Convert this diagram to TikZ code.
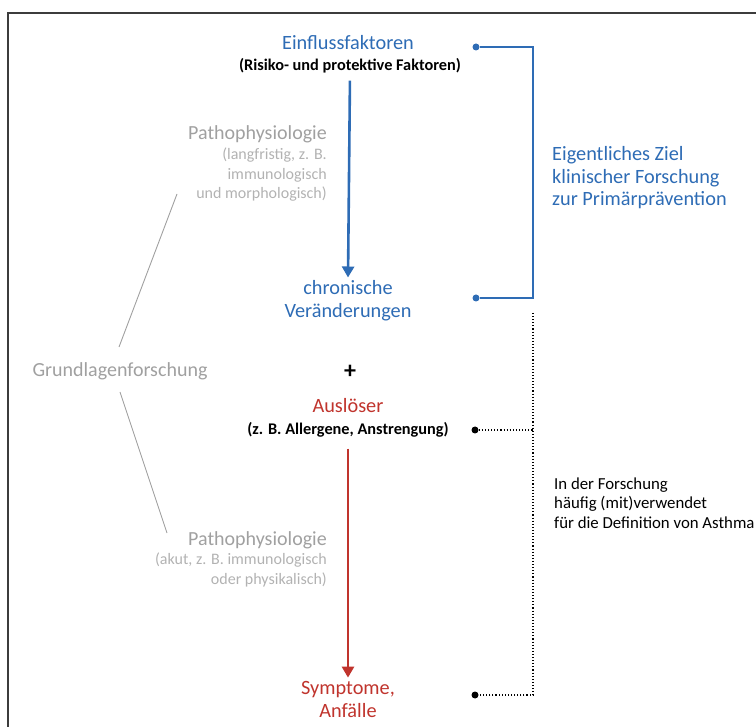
\documentclass[tikz,border=0pt]{standalone}
\usepackage{fontspec}
\setmainfont{Carlito}
\usepackage{xcolor}
\definecolor{azblue}{RGB}{46, 108, 181}
\definecolor{azred}{RGB}{192, 52, 45}
\definecolor{azgray}{RGB}{160, 160, 160}
\definecolor{azlight}{RGB}{178, 178, 178}
\definecolor{azframe}{RGB}{60, 60, 60}
\usepackage{tikz}
\usetikzlibrary{arrows.meta, positioning}

\tikzset{
  mainlbl/.style={font=\fontsize{20.3}{23}\selectfont, align=center, inner sep=1pt},
  sublbl/.style={font=\fontsize{16.3}{19}\selectfont\bfseries, align=center, inner sep=1pt},
  graylbl/.style={font=\fontsize{20}{23}\selectfont, azgray, inner sep=1pt},
  graysub/.style={font=\fontsize{16}{19.5}\selectfont, azlight, align=right, inner sep=1pt},
  sidelbl/.style={font=\fontsize{16.8}{19.5}\selectfont, align=left, anchor=west, inner sep=0pt},
  dotend/.style={circle, fill, inner sep=0pt, minimum size=7pt},
  flow/.style={line width=2.6pt, -{Triangle[length=11pt, width=12pt]}},
}

\begin{document}
\begin{tikzpicture}[x=1pt, y=-1pt]
  \useasboundingbox (0,0) rectangle (756,727);
  \clip (0,0) rectangle (756,727);
  % Frame
  \draw[azframe, line width=1.8pt] (8,13) rectangle (790,760);
  % Centre column
  \node[mainlbl, azblue] (infl) at (348,43) {Einflussfaktoren};
  \node[sublbl] (risk) at (350,66) {(Risiko- und protektive Faktoren)};
  \node[mainlbl, azblue] (chron) at (348,301) {chronische\\Veränderungen};
  \node[font=\fontsize{24}{24}\selectfont\bfseries] (plus) at (350,372) {+};
  \node[mainlbl, azred] (trig) at (348,406) {Auslöser};
  \node[sublbl] (trigsub) at (348,430) {(z. B. Allergene, Anstrengung)};
  \node[mainlbl, azred] (sympt) at (348,699) {Symptome,\\Anfälle};
  % Arrows
  \draw[flow, azblue, shorten <=6pt, shorten >=2pt] (risk.south) -- (chron.north);
  \draw[flow, azred, shorten <=10pt, shorten >=2pt] (trigsub.south) -- (sympt.north);
  % Basic research
  \node[graylbl] (basic) at (120,371) {Grundlagenforschung};
  \node[graylbl, anchor=east] (patho1) at (328,134) {Pathophysiologie};
  \node[graysub, anchor=north east] (patho1sub) at (328,147) {(langfristig, z. B.\\immunologisch\\und morphologisch)};
  \node[graylbl, anchor=east] (patho2) at (328,540) {Pathophysiologie};
  \node[graysub, anchor=north east] (patho2sub) at (328,552) {(akut, z. B. immunologisch\\oder physikalisch)};
  \coordinate (up1) at (177,194);
  \coordinate (up2) at (119,347);
  \coordinate (lo1) at (120,392);
  \coordinate (lo2) at (167,533);
  \draw[azgray, line width=0.9pt] (up2) -- (up1);
  \draw[azgray, line width=0.9pt] (lo1) -- (lo2);
  % Primary prevention bracket
  \node[dotend, azblue] (b1) at (476,47) {};
  \node[dotend, azblue] (b2) at (476,298) {};
  \draw[azblue, line width=1.1pt] (b1) -- (533,47) |- (b2);
  \node[sidelbl, azblue, font=\fontsize{20.3}{22.5}\selectfont] (goal) at (552,178) {Eigentliches Ziel\\klinischer Forschung\\zur Primärprävention};
  % Definition bracket
  \node[dotend] (d1) at (475,430) {};
  \node[dotend] (d2) at (475,695) {};
  \coordinate (dtop) at (533,313);
  \draw[line width=1.1pt, dotted] (dtop) |- (d2);
  \draw[line width=1.1pt, dotted] (d1) -- (d1 -| dtop);
  \node[sidelbl] (defn) at (554,503) {In der Forschung\\häufig (mit)verwendet\\für die Definition von Asthma};
\end{tikzpicture}
\end{document}
